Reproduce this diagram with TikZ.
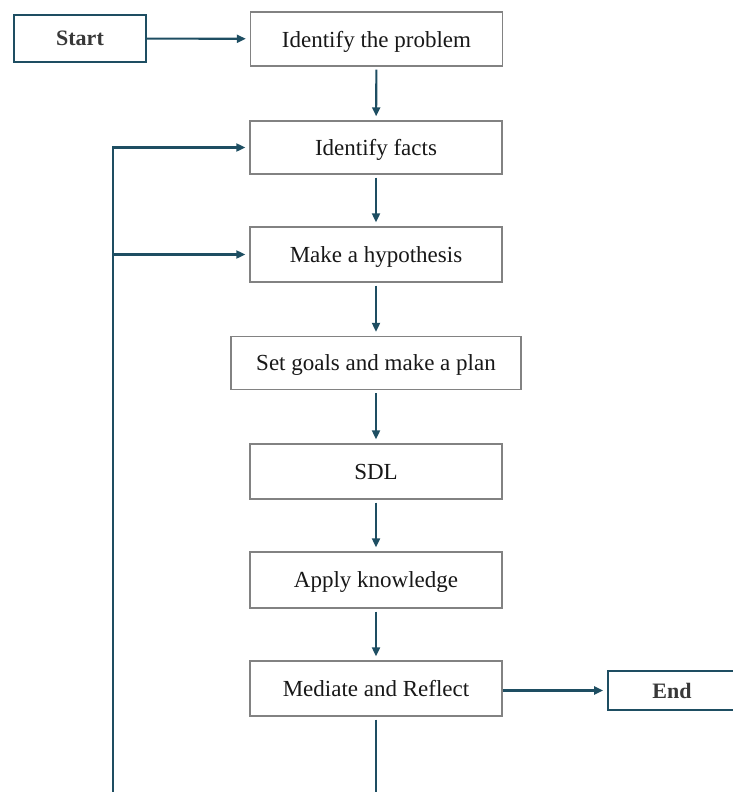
\documentclass[tikz,border=0pt]{standalone}
\usepackage{fontspec}
\setmainfont{Liberation Serif}
\usepackage{tikz}
\usetikzlibrary{arrows.meta,positioning}
\definecolor{flowc}{RGB}{30,78,98}
\definecolor{boxgray}{RGB}{130,130,130}
\definecolor{txt}{RGB}{24,24,24}
\tikzset{
  stepbox/.style={draw=boxgray, line width=1.4pt, fill=white, align=center, inner sep=0pt,
    minimum width=252pt, minimum height=53pt, text depth=0pt, text=txt,
    font=\fontsize{23}{27}\selectfont},
  termbox/.style={draw=flowc, line width=1.8pt, fill=white, align=center, inner sep=0pt,
    text depth=0pt, text=black!78, font=\fontsize{22}{26}\selectfont\bfseries},
  flow/.style={draw=flowc, line width=2.1pt, -{Triangle[length=9pt,width=8pt]}, shorten >=4pt},
  down/.style={flow, shorten <=3pt},
  loopline/.style={draw=flowc, line width=2.1pt}
}
\begin{document}
\begin{tikzpicture}[x=1pt, y=-1pt]
    \useasboundingbox (0,0) rectangle (733,792);
    % terminals
    \node[termbox, minimum width=132pt, minimum height=47pt] (start) at (80,38.5) {Start};
    \node[termbox, minimum width=128pt, minimum height=39pt] (end) at (672,690.5) {End};

    % main column, x = 376
    \node[stepbox, minimum height=54pt] (prob) at (376.5,39) {Identify the problem};
    \node[stepbox] (facts)   at (376,147.5) {Identify facts};
    \node[stepbox, minimum height=55pt] (hyp) at (376,254.5) {Make a hypothesis};
    \node[stepbox, minimum width=290pt] (goals) at (376,363) {Set goals and make a plan};
    \node[stepbox, minimum height=55pt] (sdl) at (376,471.5) {SDL};
    \node[stepbox, minimum height=56pt] (apply) at (376,580) {Apply knowledge};
    \node[stepbox, minimum height=55pt] (mediate) at (376,688.5) {Mediate and Reflect};

    \draw[flow] (start) -- (prob);
    \draw[down] (prob) -- (facts);
    \draw[down] (facts) -- (hyp);
    \draw[down] (hyp) -- (goals);
    \draw[down] (goals) -- (sdl);
    \draw[down] (sdl) -- (apply);
    \draw[down] (apply) -- (mediate);
    \draw[flow] (mediate.east |- end) -- (end);

    % feedback loop (runs off the bottom)
    \coordinate (loopL) at (113,792);
    \coordinate (loopM) at (mediate.south |- loopL);
    \draw[loopline, shorten <=3pt] (mediate) -- (loopM);
    \draw[flow] (loopL) |- (facts);
    \draw[flow] (loopL |- hyp) -- (hyp);
\end{tikzpicture}
\end{document}
